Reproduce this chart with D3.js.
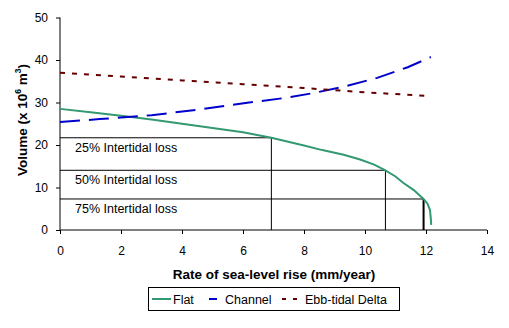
<!DOCTYPE html>
<html lang="en">
<head>
    <meta charset="UTF-8">
    <title>Volume vs rate of sea-level rise</title>
    <script src="https://d3js.org/d3.v7.min.js"></script>
    <style>
        body { margin: 0; background: #fff; font-family: Arial, "Liberation Sans", sans-serif; }
        text { font-family: Arial, "Liberation Sans", sans-serif; }
    </style>
</head>
<body>
    <svg width="509" height="328"></svg>
    <script>
        // values
        const flatX = [0, 1, 2, 3, 4, 5, 6, 6.93, 8, 8.6, 9.3, 9.84, 10.3, 10.67, 11, 11.25, 11.6, 11.92, 12.05, 12.13, 12.16, 12.17];
        const flatY = [28.5, 27.7, 26.9, 26, 25, 24, 23, 21.7, 19.9, 18.8, 17.7, 16.6, 15.4, 14.05, 12.6, 11.1, 9.4, 7.3, 6.2, 4.7, 2.5, 1.2];
        const channelX = [0, 1.3, 3, 4.6, 6.2, 7.3, 8.3, 9.4, 10.4, 11.4, 12.16];
        const channelY = [25.4, 26.1, 27, 28.4, 30, 31, 32.2, 33.9, 35.8, 38.3, 40.7];
        const deltaX = [0, 2, 4, 6, 8, 10, 12.16];
        const deltaY = [37, 36.1, 35.2, 34.3, 33.4, 32.4, 31.5];
        const lossLabels = ["25% Intertidal loss", "50% Intertidal loss", "75% Intertidal loss"];
        const lossX = [6.93, 10.67, 11.92];
        const lossY = [21.7, 14.05, 7.3];
        const xTicks = [0, 2, 4, 6, 8, 10, 12, 14];
        const yTicks = [0, 10, 20, 30, 40, 50];
        const seriesNames = ["Flat", "Channel", "Ebb-tidal Delta"];

        const svg = d3.select("svg");
        const x = d3.scaleLinear().domain([0, 14]).range([60, 487]);
        const y = d3.scaleLinear().domain([0, 50]).range([230, 17.5]);

        // axes
        svg.append("g")
            .attr("transform", "translate(0,230)")
            .call(d3.axisBottom(x).tickValues(xTicks).tickSize(4).tickPadding(12))
            .call(g => g.select(".domain").attr("d", "M60,0H487"));
        svg.append("g")
            .attr("transform", "translate(60,0)")
            .call(d3.axisLeft(y).tickValues(yTicks).tickSize(4).tickPadding(8))
            .call(g => g.select(".domain").attr("d", "M0,17.5V230"));
        svg.selectAll(".tick text").attr("font-size", 12).attr("fill", "#000");
        svg.selectAll(".tick line, .domain").attr("stroke", "#000");

        // intertidal loss guide lines
        lossX.forEach((lx, i) => {
            svg.append("path")
                .attr("d", `M${x(0)},${y(lossY[i])}H${x(lx)}V${y(0)}`)
                .attr("fill", "none")
                .attr("stroke", "#000")
                .attr("stroke-width", 1);
            svg.append("text")
                .attr("x", 75)
                .attr("y", y(lossY[i]) + 14)
                .attr("font-size", 12.5)
                .text(lossLabels[i]);
        });
        svg.append("line")
            .attr("x1", x(lossX[2])).attr("x2", x(lossX[2]))
            .attr("y1", y(lossY[2])).attr("y2", y(0))
            .attr("stroke", "#000").attr("stroke-width", 2);

        const line = d3.line().x(d => x(d[0])).y(d => y(d[1]));
        const styles = [
            { color: "#339970", dash: null },
            { color: "#0000cc", dash: "20,9" },
            { color: "#660000", dash: "5,7" }
        ];
        const series = [
            d3.zip(flatX, flatY),
            d3.zip(channelX, channelY),
            d3.zip(deltaX, deltaY)
        ];
        series.forEach((s, i) => {
            svg.append("path")
                .datum(s)
                .attr("d", line)
                .attr("fill", "none")
                .attr("stroke", styles[i].color)
                .attr("stroke-width", 2)
                .attr("stroke-dasharray", styles[i].dash);
        });

        // axis titles
        svg.append("text")
            .attr("x", 274).attr("y", 279)
            .attr("text-anchor", "middle")
            .attr("font-size", 13.5).attr("font-weight", "bold")
            .text("Rate of sea-level rise (mm/year)");
        const yt = svg.append("text")
            .attr("transform", "translate(27,120) rotate(-90)")
            .attr("text-anchor", "middle")
            .attr("font-size", 13.5).attr("font-weight", "bold");
        yt.append("tspan").text("Volume (x 10");
        yt.append("tspan").attr("font-size", 8.5).attr("dy", -6).text("6");
        yt.append("tspan").attr("dy", 6).text(" m");
        yt.append("tspan").attr("font-size", 8.5).attr("dy", -6).text("3");
        yt.append("tspan").attr("dy", 6).text(")");

        // legend
        const lg = svg.append("g");
        lg.append("rect")
            .attr("x", 148.5).attr("y", 287.5).attr("width", 251).attr("height", 23)
            .attr("fill", "#fff").attr("stroke", "#000");
        const legItems = [
            { x1: 152, x2: 171, tx: 173 },
            { x1: 209, x2: 217, tx: 225 },
            { x1: 282, x2: 297, tx: 305 }
        ];
        legItems.forEach((it, i) => {
            lg.append("line")
                .attr("x1", it.x1).attr("x2", it.x2).attr("y1", 299).attr("y2", 299)
                .attr("stroke", styles[i].color).attr("stroke-width", 2)
                .attr("stroke-dasharray", i === 2 ? "4,7" : null);
            lg.append("text")
                .attr("x", it.tx).attr("y", 303.5)
                .attr("font-size", 12.5)
                .text(seriesNames[i]);
        });
    </script>
</body>
</html>
